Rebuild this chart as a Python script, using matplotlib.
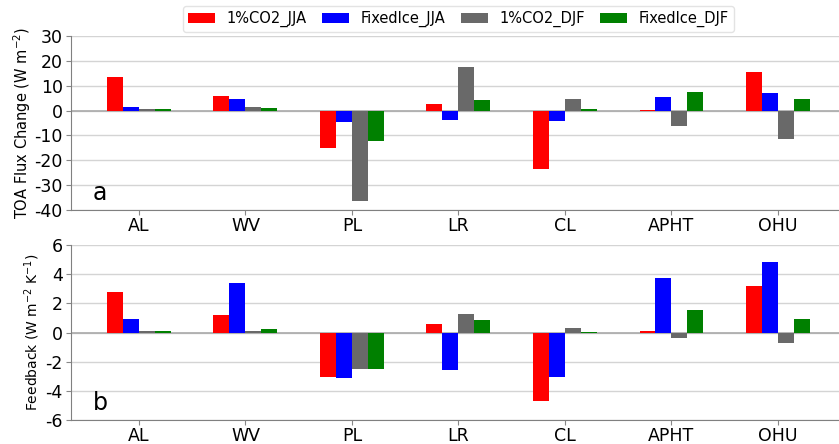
import matplotlib
matplotlib.use("Agg")
import matplotlib.pyplot as plt
import numpy as np

categories = ["AL", "WV", "PL", "LR", "CL", "APHT", "OHU"]
series_names = ["1%CO2_JJA", "FixedIce_JJA", "1%CO2_DJF", "FixedIce_DJF"]
colors = ["red", "blue", "dimgray", "green"]

# Panel a: TOA flux change (W m-2)
flux_co2_jja = [13.4, 5.9, -15.0, 2.8, -23.5, 0.4, 15.6]
flux_fix_jja = [1.3, 4.8, -4.6, -3.8, -4.3, 5.3, 7.1]
flux_co2_djf = [0.5, 1.3, -36.5, 17.7, 4.8, -6.2, -11.3]
flux_fix_djf = [0.5, 1.0, -12.3, 4.1, 0.5, 7.4, 4.8]

# Panel b: feedback (W m-2 K-1)
fb_co2_jja = [2.75, 1.19, -3.02, 0.6, -4.71, 0.12, 3.21]
fb_fix_jja = [0.94, 3.43, -3.11, -2.56, -3.06, 3.74, 4.84]
fb_co2_djf = [0.1, 0.1, -2.47, 1.24, 0.34, -0.38, -0.75]
fb_fix_djf = [0.1, 0.25, -2.47, 0.87, 0.05, 1.56, 0.96]

flux = [flux_co2_jja, flux_fix_jja, flux_co2_djf, flux_fix_djf]
fb = [fb_co2_jja, fb_fix_jja, fb_co2_djf, fb_fix_djf]

fig = plt.figure(figsize=(8.39, 4.44), dpi=100)
ax1 = fig.add_axes([0.0846, 0.527, 0.9154, 0.392])
ax2 = fig.add_axes([0.0846, 0.054, 0.9154, 0.394])

x = np.arange(len(categories))
w = 0.15
offsets = [-1.5 * w, -0.5 * w, 0.5 * w, 1.5 * w]

def style(ax, ylim, yticks, ylabel, letter, lsize, lx):
    ax.set_xlim(-0.638, 6.573)
    ax.set_ylim(*ylim)
    ax.set_yticks(yticks)
    ax.set_yticklabels([str(v) for v in yticks])
    ax.set_xticks(x)
    ax.set_xticklabels(categories)
    ax.tick_params(axis="both", labelsize=12.5, color="#888888", length=3.5)
    ax.tick_params(axis="x", pad=1.5)
    ax.tick_params(axis="y", pad=2.5)
    ax.grid(axis="y", color="#d4d4d4", linewidth=1.0)
    ax.set_axisbelow(True)
    ax.axhline(0, color="#aaaaaa", linewidth=1.2, zorder=1)
    for s in ["top", "right"]:
        ax.spines[s].set_visible(False)
    for s in ["left", "bottom"]:
        ax.spines[s].set_color("#808080")
    ax.set_ylabel(ylabel, fontsize=lsize)
    ax.yaxis.set_label_coords(lx, 0.5)
    ax.text(0.038, 0.10, letter, transform=ax.transAxes, fontsize=17,
            ha="center", va="center")

handles = []
for vals, off, c, name in zip(flux, offsets, colors, series_names):
    h = ax1.bar(x + off, vals, w, color=c, label=name, zorder=2)
    handles.append(h)
for vals, off, c, name in zip(fb, offsets, colors, series_names):
    ax2.bar(x + off, vals, w, color=c, zorder=2)

style(ax1, (-40, 30), np.arange(-40, 31, 10), r"TOA Flux Change (W m$^{-2}$)", "a", 10.5, -0.049)
style(ax2, (-6, 6), np.arange(-6, 7, 2), r"Feedback (W m$^{-2}$ K$^{-1}$)", "b", 10.0, -0.038)

fig.legend(handles=handles, labels=series_names, loc="upper center",
           bbox_to_anchor=(0.5465, 1.003), ncol=4, fontsize=10.5,
           frameon=True, edgecolor="#dddddd", columnspacing=1.05,
           handlelength=1.85, borderpad=0.35)

fig.savefig("out.png", dpi=100)
